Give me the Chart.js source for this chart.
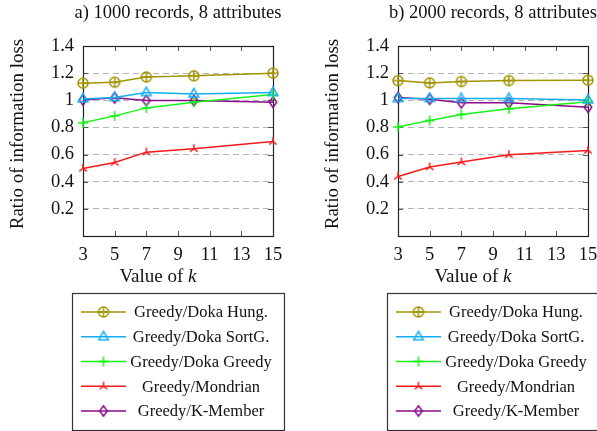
<!DOCTYPE html>
<html>
<head>
<meta charset="utf-8">
<script src="https://cdn.jsdelivr.net/npm/chart.js@4"></script>
<style>
html,body{margin:0;padding:0;background:#fff;overflow:hidden;width:597px;height:431px;}
#wrap{position:relative;width:597px;height:431px;overflow:hidden;}
canvas{position:absolute;top:0;}
#ca{left:0;}
#cb{left:315px;}
</style>
</head>
<body>
<div id="wrap">
<canvas id="ca" width="315" height="431"></canvas>
<canvas id="cb" width="315" height="431"></canvas>
</div>
<script>
// ---- data ----
const kValues = [3, 5, 7, 10, 15];
const xTicks = [3, 5, 7, 9, 11, 13, 15];
const yTicks = [0, 0.2, 0.4, 0.6, 0.8, 1, 1.2, 1.4];
const seriesNames = ["Greedy/Doka Hung.", "Greedy/Doka SortG.", "Greedy/Doka Greedy", "Greedy/Mondrian", "Greedy/K-Member"];
const titleA = "a) 1000 records, 8 attributes";
const titleB = "b) 2000 records, 8 attributes";
const xTitle = ["Value of ", "k"];
const yTitle = "Ratio of information loss";

// panel a) 1000 records
const hungA     = [1.126, 1.133, 1.172, 1.180, 1.200];
const sortgA    = [1.010, 1.020, 1.057, 1.047, 1.057];
const greedyA   = [0.834, 0.885, 0.944, 0.986, 1.042];
const mondrianA = [0.498, 0.542, 0.618, 0.643, 0.696];
const kmemberA  = [1.003, 1.018, 0.998, 0.998, 0.986];

// panel b) 2000 records
const hungB     = [1.145, 1.128, 1.138, 1.145, 1.148];
const sortgB    = [1.013, 1.013, 1.013, 1.013, 1.003];
const greedyB   = [0.804, 0.851, 0.895, 0.937, 0.990];
const mondrianB = [0.439, 0.508, 0.545, 0.599, 0.630];
const kmemberB  = [1.020, 1.008, 0.981, 0.981, 0.949];

// ---- styles ----
const colors = ["#a09500", "#14aef0", "#16f516", "#f51a1a", "#8a0a8a"];
const markerKinds = ["oplus", "triangle", "plus", "tri", "diamond"];
const FONT = "'Liberation Serif', 'Times New Roman', serif";
const TEXT = "#111";

function makeMarker(kind, color) {
  const c = document.createElement('canvas');
  c.width = 16; c.height = 16;
  const g = c.getContext('2d');
  g.strokeStyle = color; g.lineWidth = 1.5; g.lineJoin = 'miter';
  g.translate(8, 8);
  g.beginPath();
  if (kind === 'oplus') {
    g.arc(0, 0, 5, 0, Math.PI * 2);
    g.moveTo(-5, 0); g.lineTo(5, 0);
    g.moveTo(0, -5); g.lineTo(0, 5);
  } else if (kind === 'triangle') {
    g.moveTo(0, -5.4); g.lineTo(4.8, 3); g.lineTo(-4.8, 3); g.closePath();
  } else if (kind === 'plus') {
    g.moveTo(-5, 0); g.lineTo(5, 0);
    g.moveTo(0, -5); g.lineTo(0, 5);
  } else if (kind === 'tri') {
    g.moveTo(0, 0); g.lineTo(0, -4.5);
    g.moveTo(0, 0); g.lineTo(-3.8, 2.8);
    g.moveTo(0, 0); g.lineTo(3.8, 2.8);
  } else if (kind === 'diamond') {
    g.moveTo(0, -5.2); g.lineTo(3.8, 0); g.lineTo(0, 5.2); g.lineTo(-3.8, 0); g.closePath();
  }
  g.stroke();
  return c;
}
const markers = markerKinds.map((k, i) => makeMarker(k, colors[i]));

// ---- plugins ----
const framePlugin = {
  id: 'frame',
  beforeDatasetsDraw(chart) {
    const { ctx, chartArea: a, scales } = chart;
    ctx.save();
    ctx.strokeStyle = '#555'; ctx.lineWidth = 1;
    ctx.beginPath();
    scales.x.ticks.forEach(t => {
      const x = Math.round(scales.x.getPixelForValue(t.value)) + 0.5;
      ctx.moveTo(x, a.top); ctx.lineTo(x, a.top + 5);
      ctx.moveTo(x, a.bottom); ctx.lineTo(x, a.bottom - 5);
    });
    scales.y.ticks.forEach(t => {
      const y = Math.round(scales.y.getPixelForValue(t.value)) + 0.5;
      ctx.moveTo(a.left, y); ctx.lineTo(a.left + 5, y);
      ctx.moveTo(a.right, y); ctx.lineTo(a.right - 5, y);
    });
    ctx.stroke();
    ctx.strokeStyle = '#222'; ctx.lineWidth = 1.2;
    ctx.strokeRect(Math.round(a.left) + 0.5, Math.round(a.top) + 0.5,
                   Math.round(a.right - a.left), Math.round(a.bottom - a.top));
    ctx.restore();
  },
  afterDraw(chart) {
    const { ctx, chartArea: a } = chart;
    const title = chart.options.plugins.panelTitle;
    ctx.save();
    ctx.fillStyle = TEXT;
    ctx.textBaseline = 'middle';
    // panel title
    ctx.font = "18.5px " + FONT;
    ctx.textAlign = 'center';
    ctx.fillText(title, (a.left + a.right) / 2, 13);
    // y-axis title
    ctx.save();
    ctx.font = "19px " + FONT;
    ctx.translate(18, 134);
    ctx.rotate(-Math.PI / 2);
    ctx.fillText(yTitle, 0, 0);
    ctx.restore();
    // x-axis title with italic k
    const f1 = "19px " + FONT, f2 = "italic 19px " + FONT;
    ctx.font = f1; const w1 = ctx.measureText(xTitle[0]).width;
    ctx.font = f2; const w2 = ctx.measureText(xTitle[1]).width;
    const cx = a.left + 75;
    const x0 = cx - (w1 + w2) / 2;
    const ty = a.bottom + 41;
    ctx.font = f1; ctx.textAlign = 'left'; ctx.fillText(xTitle[0], x0, ty);
    ctx.font = f2; ctx.fillText(xTitle[1], x0 + w1, ty);

    // legend box
    const bx = a.left - 11, by = a.bottom + 57, bw = 212, bh = 137;
    ctx.strokeStyle = '#333'; ctx.lineWidth = 1.2;
    ctx.strokeRect(bx + 0.5, by + 0.5, bw, bh);
    ctx.font = "16.5px " + FONT;
    ctx.textAlign = 'center';
    chart.data.datasets.forEach((ds, i) => {
      const y = by + 19 + i * 24.75;
      ctx.strokeStyle = ds.borderColor; ctx.lineWidth = 1.5;
      ctx.beginPath(); ctx.moveTo(bx + 9, y); ctx.lineTo(bx + 54, y); ctx.stroke();
      Chart.helpers.drawPoint(ctx, { pointStyle: ds.pointStyle, radius: 5, rotation: 0, borderWidth: 0 }, bx + 31.5, y);
      ctx.fillStyle = TEXT;
      ctx.fillText(ds.label, bx + 129, y + 1);
    });
    ctx.restore();
  }
};

function makeChart(id, title, series) {
  const datasets = series.map((vals, i) => ({
    label: seriesNames[i],
    data: kValues.map((k, j) => ({ x: k, y: vals[j] })),
    borderColor: colors[i],
    backgroundColor: colors[i],
    borderWidth: 1.5,
    pointStyle: markers[i],
    pointRadius: 5,
    pointHoverRadius: 5,
    tension: 0,
    clip: false
  }));
  return new Chart(document.getElementById(id), {
    type: 'line',
    data: { datasets },
    plugins: [framePlugin],
    options: {
      responsive: false,
      maintainAspectRatio: false,
      animation: false,
      devicePixelRatio: 1,
      layout: { padding: { left: 0, right: 42, top: 46, bottom: 140 } },
      plugins: {
        panelTitle: title,
        legend: { display: false },
        tooltip: { enabled: false },
        title: { display: false }
      },
      scales: {
        x: {
          type: 'linear', min: 3, max: 15,
          afterBuildTicks: s => { s.ticks = xTicks.map(v => ({ value: v })); },
          afterFit: s => { s.height = 55; },
          grid: { display: false, drawTicks: false },
          border: { display: false },
          ticks: { color: TEXT, padding: 8, font: { family: FONT, size: 18.5 }, maxRotation: 0, autoSkip: false,
                   callback: v => String(v) }
        },
        y: {
          type: 'linear', min: 0, max: 1.4,
          afterBuildTicks: s => { s.ticks = yTicks.map(v => ({ value: v })); },
          afterFit: s => { s.width = 83; },
          grid: {
            drawTicks: false, lineWidth: 1,
            color: c => (c.tick && (c.tick.value === 0 || c.tick.value === 1.4)) ? 'rgba(0,0,0,0)' : '#b4b4b4'
          },
          border: { display: false, dash: [6, 4] },
          title: { display: false },
          ticks: { color: TEXT, padding: 9, font: { family: FONT, size: 18.5 }, autoSkip: false,
                   callback: v => v === 0 ? '' : String(Math.round(v * 10) / 10) }
        }
      }
    }
  });
}

makeChart('ca', titleA, [hungA, sortgA, greedyA, mondrianA, kmemberA]);
makeChart('cb', titleB, [hungB, sortgB, greedyB, mondrianB, kmemberB]);
</script>
</body>
</html>
